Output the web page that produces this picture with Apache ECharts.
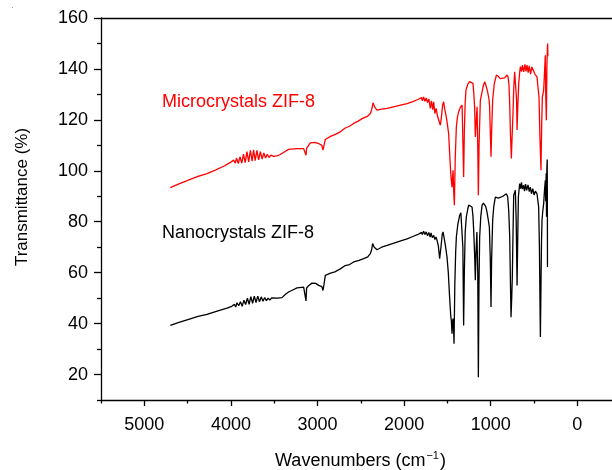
<!DOCTYPE html>
<html>
<head>
<meta charset="UTF-8">
<script src="https://cdn.jsdelivr.net/npm/echarts@6.0.0/dist/echarts.min.js"></script>
<style>
  body, html { margin: 0; padding: 0; background: #fff; }
  #main { width: 612px; height: 470px; }
</style>
</head>
<body>
<div id="main"></div>
<script>
// ZIF-8 FTIR spectra
const nanoWn = [4700, 4600, 4469, 4380, 4276, 4150, 4045, 3990, 3960, 3945, 3930, 3910, 3890, 3870, 3850, 3830, 3810, 3790, 3770, 3750, 3730, 3710, 3690, 3670, 3650, 3630, 3610, 3590, 3570, 3550, 3530, 3507, 3460, 3410, 3370, 3334, 3280, 3237, 3160, 3140, 3133, 3126, 3100, 3064, 3020, 2987, 2950, 2937, 2925, 2910, 2850, 2800, 2737, 2680, 2630, 2583, 2520, 2467, 2420, 2390, 2375, 2364, 2345, 2313, 2260, 2197, 2100, 2030, 1966, 1900, 1840, 1800, 1790, 1775, 1760, 1745, 1730, 1715, 1700, 1690, 1675, 1659, 1645, 1632, 1620, 1605, 1590, 1575, 1560, 1551, 1540, 1525, 1505, 1490, 1475, 1462, 1455, 1447, 1440, 1435, 1428, 1424, 1415, 1405, 1397, 1380, 1359, 1345, 1331, 1322, 1313, 1305, 1295, 1282, 1265, 1255, 1235, 1216, 1205, 1197, 1185, 1178, 1170, 1160, 1150, 1143, 1136, 1128, 1115, 1100, 1085, 1074, 1058, 1043, 1025, 1016, 1005, 997, 990, 978, 965, 947, 930, 910, 889, 860, 840, 820, 804, 792, 781, 772, 766, 758, 751, 743, 735, 716, 706, 696, 690, 681, 666, 655, 645, 635, 620, 610, 598, 585, 570, 555, 543, 530, 515, 500, 485, 466, 455, 447, 438, 432, 427, 420, 414, 408, 400, 389, 380, 370, 365, 360, 356, 352, 348, 346, 345];
const nanoT = [39.3, 40.5, 41.9, 42.8, 43.6, 45.0, 46.1, 46.8, 47.6, 46.5, 48.2, 47.0, 48.6, 46.8, 49.2, 47.5, 50.0, 47.6, 50.6, 48.0, 50.8, 48.3, 50.8, 48.6, 50.5, 48.8, 50.2, 49.0, 50.0, 49.2, 50.1, 49.8, 50.0, 50.2, 51.5, 52.4, 53.3, 54.0, 54.3, 53.8, 48.9, 54.0, 55.0, 55.9, 55.8, 55.0, 54.5, 53.0, 55.5, 58.9, 59.8, 60.3, 61.5, 62.8, 63.2, 64.2, 64.8, 65.5, 66.2, 67.5, 69.0, 71.4, 70.0, 69.0, 70.0, 70.7, 71.8, 72.6, 73.3, 74.2, 75.0, 75.8, 75.0, 76.3, 75.0, 76.0, 74.5, 75.8, 74.0, 75.6, 73.8, 74.6, 73.0, 74.0, 72.7, 70.5, 65.5, 70.0, 75.0, 76.0, 74.0, 71.0, 66.1, 60.0, 50.4, 43.0, 41.2, 36.0, 41.0, 42.0, 37.0, 32.1, 55.0, 68.0, 74.0, 79.0, 82.5, 83.5, 83.2, 70.0, 39.3, 60.0, 76.0, 81.9, 85.0, 86.5, 86.5, 85.8, 82.0, 76.6, 66.0, 57.0, 68.0, 76.0, 60.0, 18.9, 55.0, 74.0, 82.0, 86.5, 87.3, 87.1, 86.0, 83.8, 80.0, 77.9, 65.0, 46.5, 65.0, 80.6, 86.0, 89.7, 90.0, 89.3, 89.7, 90.0, 89.4, 91.0, 89.7, 84.0, 74.0, 55.0, 42.5, 50.0, 58.3, 75.0, 90.4, 92.4, 80.0, 55.0, 70.0, 89.7, 95.0, 93.0, 95.5, 92.8, 94.3, 92.0, 94.8, 92.3, 94.5, 91.8, 93.6, 91.0, 93.0, 90.5, 92.0, 91.0, 88.0, 85.8, 70.0, 50.0, 34.7, 55.0, 72.0, 80.6, 84.0, 87.1, 92.0, 96.3, 88.0, 99.0, 82.0, 101.0, 104.4, 85.0, 62.2];

const microWn = [4700, 4600, 4469, 4380, 4276, 4180, 4084, 4020, 3969, 3950, 3935, 3915, 3895, 3875, 3855, 3835, 3815, 3795, 3775, 3755, 3738, 3720, 3700, 3680, 3660, 3640, 3620, 3600, 3580, 3560, 3540, 3507, 3460, 3430, 3380, 3334, 3237, 3160, 3140, 3133, 3126, 3100, 3083, 3030, 2987, 2950, 2937, 2925, 2910, 2850, 2800, 2737, 2680, 2630, 2583, 2530, 2486, 2420, 2390, 2375, 2359, 2340, 2313, 2260, 2197, 2100, 2030, 1966, 1900, 1840, 1800, 1790, 1775, 1760, 1745, 1730, 1715, 1697, 1685, 1670, 1659, 1645, 1630, 1615, 1600, 1582, 1570, 1555, 1544, 1530, 1513, 1500, 1486, 1470, 1459, 1447, 1440, 1435, 1428, 1420, 1410, 1397, 1385, 1370, 1350, 1331, 1322, 1313, 1305, 1295, 1286, 1265, 1244, 1225, 1205, 1195, 1186, 1178, 1170, 1158, 1150, 1143, 1135, 1120, 1100, 1085, 1070, 1055, 1036, 1020, 1013, 1005, 997, 990, 978, 960, 935, 910, 890, 870, 840, 812, 800, 789, 780, 774, 762, 755, 743, 735, 724, 708, 702, 696, 688, 677, 665, 658, 645, 635, 620, 605, 592, 581, 568, 555, 540, 525, 504, 490, 478, 466, 455, 443, 432, 420, 412, 404, 389, 380, 370, 365, 358, 352, 346, 343, 340];
const microT = [93.4, 94.9, 96.6, 97.8, 98.9, 100.3, 101.8, 103.0, 104.2, 103.0, 105.0, 102.8, 105.5, 103.0, 106.5, 103.2, 107.5, 103.5, 108.0, 103.8, 108.2, 104.0, 108.0, 104.3, 107.5, 104.6, 107.0, 105.0, 106.5, 105.2, 106.2, 105.7, 106.0, 106.4, 107.5, 108.4, 108.7, 108.7, 108.3, 106.1, 108.8, 110.2, 111.0, 111.2, 110.7, 110.0, 108.1, 110.0, 112.3, 113.5, 114.2, 115.3, 116.8, 117.5, 118.6, 119.5, 120.5, 121.5, 122.5, 124.0, 126.7, 125.0, 123.8, 124.2, 124.5, 125.3, 125.9, 126.4, 127.2, 128.0, 128.8, 127.5, 129.0, 127.3, 128.6, 126.8, 128.2, 124.5, 127.5, 124.0, 127.1, 122.5, 124.5, 121.5, 122.0, 117.9, 121.0, 126.0, 127.1, 124.0, 121.2, 118.0, 114.6, 104.0, 97.6, 93.6, 98.0, 100.2, 92.0, 86.5, 105.0, 117.3, 121.0, 123.2, 125.0, 125.8, 112.0, 97.6, 115.0, 127.0, 131.7, 134.0, 135.0, 134.8, 134.3, 130.0, 125.1, 113.3, 118.0, 125.1, 110.0, 90.4, 110.0, 127.7, 131.0, 133.5, 135.0, 133.5, 131.0, 128.0, 125.1, 115.0, 105.5, 115.0, 127.7, 134.0, 137.6, 137.0, 136.2, 136.9, 136.5, 137.6, 136.8, 133.6, 125.0, 116.0, 104.8, 112.0, 122.5, 132.0, 138.9, 139.5, 128.0, 116.0, 125.0, 134.3, 139.0, 140.9, 139.0, 141.5, 138.8, 141.8, 139.0, 141.5, 138.5, 141.2, 138.0, 140.8, 140.9, 138.0, 138.5, 136.9, 133.0, 129.0, 113.0, 100.2, 118.0, 129.0, 131.7, 138.0, 145.4, 130.0, 119.9, 140.0, 148.0, 150.0, 145.0];

const xMajor = [0, 1000, 2000, 3000, 4000, 5000];
const xMinor = [500, 1500, 2500, 3500, 4500, 5500];
const yMajor = [20, 40, 60, 80, 100, 120, 140, 160];
const yMinor = [10, 30, 50, 70, 90, 110, 130, 150];

const font = "'Liberation Sans', Arial, sans-serif";
const pairs = (xs, ys) => xs.map((x, i) => [x, ys[i]]);

const chart = echarts.init(document.getElementById('main'));

// the frame runs past the right edge of the picture, so the x range stops at -400
const baseX = {
    type: 'value', min: -400, max: 5500, inverse: true,
    splitLine: { show: false },
};
const baseY = {
    type: 'value', min: 10, max: 160,
    splitLine: { show: false },
};

chart.setOption({
    animation: false,
    backgroundColor: '#fff',
    grid: { left: 101, top: 18, right: 0, bottom: 70, show: false, outerBoundsMode: 'none', containLabel: false },
    xAxis: [
        Object.assign({}, baseX, {
            position: 'bottom',
            axisLine: { show: true, onZero: false, lineStyle: { color: '#000', width: 1.3 } },
            axisTick: { show: true, customValues: xMajor, length: 6, lineStyle: { color: '#000', width: 1.3 } },
            axisLabel: {
                customValues: xMajor, margin: 16, color: '#000', fontSize: 18, fontFamily: font,
                formatter: (v) => String(v),
            },
            name: '{a|Wavenumbers (cm}{s|−1}{a|)}',
            nameLocation: 'middle',
            nameGap: 50,
            nameTextStyle: {
                padding: [0, 0, 0, 8],
                rich: {
                    a: { fontSize: 18, fontFamily: font, color: '#000' },
                    s: { fontSize: 11, fontFamily: font, color: '#000', padding: [0, 1, 12, 1] },
                },
            },
        }),
        Object.assign({}, baseX, {
            position: 'bottom',
            axisLine: { show: false, onZero: false },
            axisTick: { show: true, customValues: xMinor, length: 3.5, lineStyle: { color: '#000', width: 1.3 } },
            axisLabel: { show: false },
        }),
        Object.assign({}, baseX, {
            position: 'top',
            axisLine: { show: true, onZero: false, lineStyle: { color: '#000', width: 1.3 } },
            axisTick: { show: false },
            axisLabel: { show: false },
        }),
    ],
    yAxis: [
        Object.assign({}, baseY, {
            position: 'left',
            axisLine: { show: true, onZero: false, lineStyle: { color: '#000', width: 1.3 } },
            axisTick: { show: true, customValues: yMajor, length: 7, lineStyle: { color: '#000', width: 1.3 } },
            axisLabel: { customValues: yMajor, margin: 13, color: '#000', fontSize: 18, fontFamily: font },
        }),
        Object.assign({}, baseY, {
            position: 'left',
            axisLine: { show: false, onZero: false },
            axisTick: { show: true, customValues: yMinor, length: 4, lineStyle: { color: '#000', width: 1.3 } },
            axisLabel: { show: false },
        }),
    ],
    graphic: [
        {
            type: 'text', x: 22, y: 197, rotation: Math.PI / 2,
            style: { text: 'Transmittance (%)', fill: '#000', font: '17px ' + font, align: 'center', verticalAlign: 'middle' },
        },
        {
            type: 'text', x: 162, y: 102,
            style: { text: 'Microcrystals ZIF-8', fill: '#ff0000', font: '18px ' + font, align: 'left', verticalAlign: 'middle' },
        },
        {
            type: 'text', x: 162, y: 233,
            style: { text: 'Nanocrystals ZIF-8', fill: '#000', font: '18px ' + font, align: 'left', verticalAlign: 'middle' },
        },
        { type: 'rect', shape: { x: 12, y: 7, width: 1, height: 1 }, style: { fill: '#999' } },
    ],
    series: [
        {
            name: 'Nanocrystals ZIF-8', type: 'line', xAxisIndex: 0, yAxisIndex: 0,
            data: pairs(nanoWn, nanoT), showSymbol: false, symbol: 'none',
            lineStyle: { color: '#000', width: 1.3 }, silent: true,
        },
        {
            name: 'Microcrystals ZIF-8', type: 'line', xAxisIndex: 0, yAxisIndex: 0,
            data: pairs(microWn, microT), showSymbol: false, symbol: 'none',
            lineStyle: { color: '#ff0000', width: 1.3 }, silent: true,
        },
    ],
});
</script>
</body>
</html>
